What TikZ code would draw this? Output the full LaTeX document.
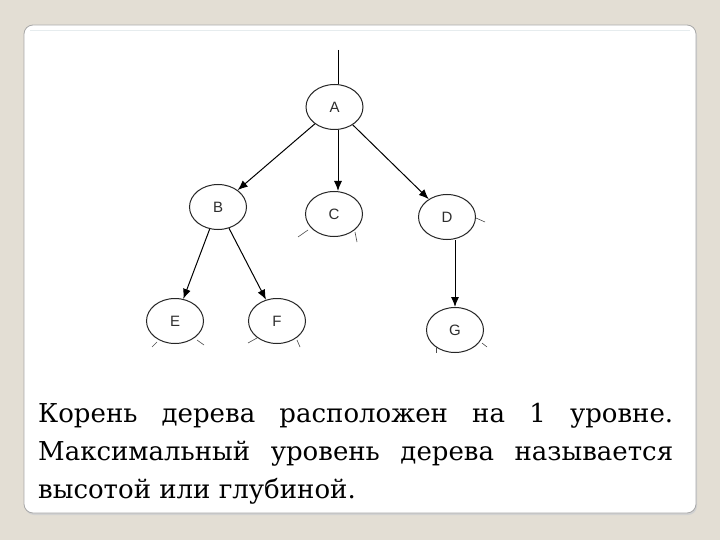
\documentclass[tikz,border=0pt]{standalone}
\usepackage{fontspec}
\newfontfamily\captionfont{DejaVu Serif}
\newfontfamily\letterfont{Liberation Sans}
\usepackage{tikz}
\usetikzlibrary{shapes.geometric,arrows.meta}

\definecolor{slidebg}{HTML}{E3DED4}
\definecolor{cardedge}{HTML}{A8A8A8}
\definecolor{cardinner}{HTML}{E6ECEE}
\definecolor{letter}{HTML}{2E2E2E}

\tikzset{
	vertex/.style={ellipse, draw=black!85, line width=1pt, minimum width=57pt, minimum height=45pt, inner sep=0pt, font=\letterfont\fontsize{15}{15}\selectfont, text=letter},
	edge/.style={line width=1pt, -{Latex[length=10pt,width=8pt]}},
	tick/.style={line width=0.6pt, black!70}
}

\begin{document}
\begin{tikzpicture}[x=1pt,y=-1pt]
	% Slide background and card
	\fill[slidebg] (0,0) rectangle (720,540);
	\useasboundingbox (0,0) rectangle (720,540);
	\fill[black!18, rounded corners=9pt] (25,27) rectangle (697,515);
	\draw[cardedge, fill=white, line width=0.8pt, rounded corners=9pt] (24,25) rectangle (696,513);
	\draw[cardinner, line width=0.6pt] (30,30) -- (690,30);

	% Nodes of the tree
	\node[vertex] (a) at (334.5,107) {A};
	\node[vertex] (b) at (218,207) {B};
	\node[vertex] (c) at (334,214) {C};
	\node[vertex] (d) at (447,217) {D};
	\node[vertex] (e) at (175,321) {E};
	\node[vertex] (f) at (277,321) {F};
	\node[vertex] (g) at (455,330) {G};

	% Line into the root
	\coordinate (top) at (338,50);
	\draw[line width=1pt] (top) -- (top |- a.north);

	% Edges
	\draw[edge] (a) -- (b);
	\draw[edge] ([xshift=3.5pt]a.south) -- ([xshift=4pt]c.north);
	\draw[edge] (a) -- (d);
	\draw[edge] (b) -- (e);
	\draw[edge] (b) -- (f);
	\draw[edge] (d.south -| g.north) -- (g.north);

	% Small marks at the ellipses
	\draw[tick] (298,237) -- (308,230);
	\draw[tick] (355,232) -- (357,242);
	\draw[tick] (476,218) -- (485,222);
	\draw[tick] (152,347) -- (157,342);
	\draw[tick] (197,340) -- (204,345);
	\draw[tick] (248,343) -- (257,338);
	\draw[tick] (297,340) -- (300,347);
	\draw[tick] (436,347) -- (436,353);
	\draw[tick] (482,343) -- (487,347);

	% Caption
	\node[anchor=base west, inner sep=0pt, text width=635pt, align=justify,
		font=\captionfont\fontsize{26}{38}\selectfont] (caption) at (38,422)
		{\hyphenpenalty=10000 Корень дерева расположен на 1 уровне.\linebreak
		Максимальный уровень дерева называется\linebreak
		высотой или глубиной.};
\end{tikzpicture}
\end{document}
